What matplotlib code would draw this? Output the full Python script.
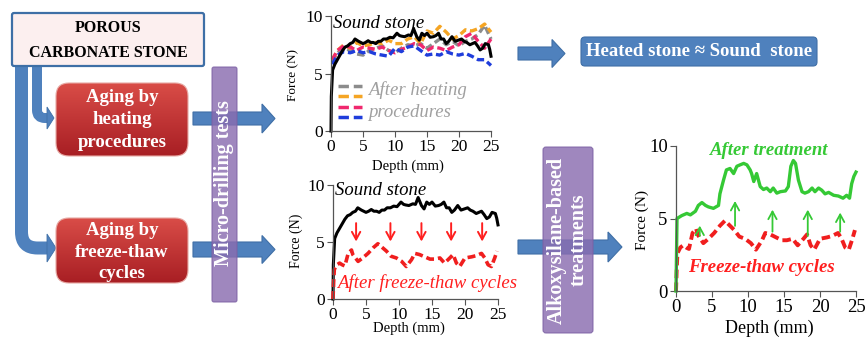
import matplotlib
matplotlib.use('Agg')
import matplotlib.pyplot as plt
import numpy as np
from matplotlib.patches import FancyBboxPatch, Polygon, PathPatch
from matplotlib.path import Path

plt.rcParams['font.family'] = ['Liberation Serif', 'DejaVu Serif']

# ---------------- data ----------------
sound_depth = [0, 0.05, 0.25, 0.6, 1.0, 1.4, 1.8, 2.2, 2.6, 3.0, 3.4, 3.75, 4.3, 5.0, 5.4,
               5.8, 6.2, 6.6, 7.0, 7.4, 7.8, 8.2, 8.7, 9.2, 9.7, 10.3, 10.7, 11.0, 11.5, 12.1,
               12.5, 12.9, 13.4, 13.8, 14.2, 14.6, 15.0, 15.5, 16.0, 16.4, 16.8, 17.2, 17.6, 18.0, 18.4,
               18.9, 19.4, 19.9, 20.4, 20.8, 21.2, 21.7, 22.1, 22.5, 22.9, 23.3, 23.7, 24.1, 24.6, 24.8, 25.0]
sound_force = [0, 3.0, 5.3, 5.8, 6.2, 6.6, 7.0, 7.3, 7.4, 7.6, 7.7, 8.0, 7.8, 7.6, 7.7,
               7.85, 7.7, 7.7, 7.6, 7.8, 7.8, 8.0, 8.0, 8.15, 8.1, 8.5, 8.3, 8.25, 8.2, 8.35,
               8.3, 8.9, 8.2, 7.9, 8.5, 8.3, 8.5, 8.15, 8.2, 8.3, 8.5, 8.0, 8.0, 7.6, 7.8,
               8.2, 7.8, 7.9, 8.0, 7.8, 7.7, 7.5, 7.6, 7.7, 7.4, 7.05, 7.2, 7.6, 7.5, 7.1, 6.5]

heat_depth = [0.2, 1, 2, 3, 4, 5, 6, 7, 8, 9, 10, 11, 12, 13, 14, 15, 16, 17, 18, 19, 20, 21, 22, 23, 24, 25]
heat_gray = [6.0, 6.8, 7.2, 7.0, 6.7, 6.6, 7.0, 7.2, 7.4, 7.0, 6.8, 7.2, 7.5, 7.4, 7.6, 7.2, 7.6, 8.0, 7.5, 7.8, 7.4, 7.8, 8.0, 8.4, 9.2, 8.0]
heat_orange = [6.2, 7.0, 7.5, 7.2, 7.7, 7.4, 7.5, 7.7, 7.6, 7.9, 7.6, 7.6, 8.0, 8.2, 7.6, 8.7, 8.5, 9.1, 8.6, 8.0, 8.3, 8.8, 8.7, 8.9, 9.3, 8.6]
heat_pink = [6.2, 7.0, 7.4, 7.3, 7.0, 7.3, 7.2, 7.1, 7.3, 7.0, 6.8, 7.1, 7.3, 7.6, 7.5, 7.0, 7.3, 7.2, 7.0, 7.3, 7.5, 8.2, 8.5, 7.8, 7.2, 8.0]
heat_blue = [5.8, 6.6, 6.9, 6.8, 7.0, 6.8, 6.9, 6.7, 6.6, 6.5, 7.2, 6.9, 7.3, 7.4, 7.0, 6.6, 6.7, 6.6, 6.9, 6.7, 6.6, 6.75, 6.5, 6.2, 6.2, 5.7]

ft_depth = [0.0, 0.1, 0.2, 0.6, 1.0, 1.4, 1.8, 2.3, 2.8, 3.0, 3.4, 3.8, 4.5, 5.3, 6.1,
            6.8, 7.3, 8.1, 8.8, 9.6, 10.4, 11.1, 11.9, 12.4, 13.1, 13.9, 14.7, 15.4, 16.2, 16.9,
            17.7, 18.2, 18.7, 19.2, 20.0, 21.0, 21.7, 22.5, 23.0, 23.5, 24.0, 24.5, 24.85]
ft_force = [0.0, 1.5, 2.6, 3.0, 3.15, 3.0, 2.9, 4.0, 4.3, 3.9, 3.6, 3.3, 3.6, 4.0, 4.5,
            4.85, 4.6, 4.2, 3.75, 3.6, 3.3, 2.85, 3.45, 4.0, 3.9, 3.7, 3.5, 3.5, 3.6, 3.15,
            3.6, 3.9, 3.15, 2.85, 3.6, 3.7, 3.8, 4.0, 3.6, 3.0, 2.85, 3.6, 4.2]

tr_depth = [0.0, 0.14, 0.8, 1.5, 2.0, 2.7, 3.1, 3.6, 4.1, 4.5, 5.2, 5.9, 6.1, 6.6, 7.0,
            7.5, 8.0, 8.45, 8.9, 9.4, 9.85, 10.3, 10.5, 10.8, 11.2, 11.7, 12.15, 12.6, 13.1, 13.5,
            14.0, 14.5, 15.2, 15.6, 15.95, 16.3, 16.6, 17.0, 17.5, 17.9, 18.4, 18.9, 19.3, 19.8, 20.25,
            20.7, 21.2, 21.9, 22.55, 23.2, 23.7, 24.1, 24.4, 24.7, 25.0]
tr_force = [0.0, 5.0, 5.2, 5.35, 5.25, 5.5, 5.9, 6.1, 5.9, 5.8, 5.7, 5.9, 6.7, 7.65, 8.35,
            8.45, 8.1, 8.6, 8.7, 8.8, 8.7, 8.35, 8.1, 7.55, 8.1, 7.2, 7.0, 7.1, 6.85, 7.1,
            6.75, 6.85, 6.9, 7.2, 8.6, 9.0, 8.8, 7.65, 6.85, 6.75, 6.85, 7.1, 6.85, 7.1, 6.95,
            6.7, 6.8, 6.6, 6.55, 6.4, 6.6, 6.4, 7.4, 7.9, 8.2]

down_arrow_x = [3.5, 8.7, 13.4, 17.9, 22.6]
down_arrow_from = 6.9
down_arrow_to = 4.8
up_arrow_x = [3.3, 8.2, 13.4, 18.3, 22.8]
up_arrow_from = [3.6, 4.3, 3.9, 3.6, 3.9]
up_arrow_to = [4.7, 6.4, 5.8, 5.8, 5.6]

x_ticks = [0, 5, 10, 15, 20, 25]
y_ticks = [0, 5, 10]

# ---------------- figure ----------------
W, H = 865, 342
fig = plt.figure(figsize=(W / 100, H / 100), dpi=100)
bg = fig.add_axes([0, 0, 1, 1])
bg.axis('off')

BLUE = '#4f81bd'
BLUE_E = '#3f6fa6'
PURPLE = '#8a6db0'
RED = '#ff1f1f'
GREEN = '#35c935'


def harrow(x0, x1, yc, shaft_h, head_h, head_len):
    xs = x1 - head_len
    pts = [(x0, yc - shaft_h / 2), (xs, yc - shaft_h / 2), (xs, yc - head_h / 2), (x1, yc),
           (xs, yc + head_h / 2), (xs, yc + shaft_h / 2), (x0, yc + shaft_h / 2)]
    bg.add_patch(Polygon(pts, closed=True, fc=BLUE, ec=BLUE_E, lw=0.8, zorder=2))


def bent_arrow(x, ytop, yturn, xend, width, head_h, head_len, r):
    xs = xend - head_len
    verts = [(x, ytop), (x, yturn - r), (x, yturn), (x + r, yturn), (xs + 1, yturn)]
    codes = [Path.MOVETO, Path.LINETO, Path.CURVE3, Path.CURVE3, Path.LINETO]
    bg.add_patch(PathPatch(Path(verts, codes), fc='none', ec=BLUE, lw=width * 0.72,
                           capstyle='butt', joinstyle='round', zorder=2))
    bg.add_patch(Polygon([(xs, yturn - head_h / 2), (xend, yturn), (xs, yturn + head_h / 2)],
                         closed=True, fc=BLUE, ec=BLUE_E, lw=0.6, zorder=2))


# porous box
bg.add_patch(FancyBboxPatch((12, 13), 192, 53, boxstyle='round,pad=0,rounding_size=2',
                            fc='#fcefef', ec='#3e6fa6', lw=1.6, zorder=4))
bg.text(108, 31.7, 'POROUS', ha='center', va='baseline', fontsize=11.5, fontweight='bold', zorder=5)
bg.text(108, 57.3, 'CARBONATE STONE', ha='center', va='baseline', fontsize=11.5, fontweight='bold', zorder=5)

# bent arrows
bent_arrow(21.5, 66, 248, 56, 13, 28, 9, 16)
bent_arrow(37, 66, 118, 54, 10, 22, 7, 8)


# red gradient boxes
def grad_box(x0, y0, x1, y1, lines, baselines):
    p = FancyBboxPatch((x0, y0), x1 - x0, y1 - y0, boxstyle='round,pad=0,rounding_size=13',
                       fc='none', ec='#e7a9a4', lw=0.8, zorder=3)
    bg.add_patch(p)
    g = np.linspace(0, 1, 60)[:, None, None]
    top = np.array([0.85, 0.30, 0.28])
    bot = np.array([0.66, 0.12, 0.14])
    img = top + (bot - top) * g
    im = bg.imshow(img, extent=(x0, x1, y1, y0), aspect='auto', zorder=2.5, interpolation='bilinear')
    im.set_clip_path(p)
    for t, b in zip(lines, baselines):
        bg.text((x0 + x1) / 2, b, t, ha='center', va='baseline', color='white', fontsize=13.5,
                fontweight='bold', zorder=5)


grad_box(56, 83, 188, 156, ['Aging by', 'heating', 'procedures'], [101.7, 124.5, 147.3])
grad_box(56, 218, 188, 283, ['Aging by', 'freeze-thaw', 'cycles'], [235, 257, 278])

# straight arrows
harrow(193, 275, 118.5, 13, 29, 13)
harrow(193, 275, 249.5, 15, 28, 13)
harrow(518, 565, 53.5, 13, 28, 13)
harrow(518, 622, 247, 14, 30, 14)

# purple bars
bg.add_patch(FancyBboxPatch((212, 67), 25, 235, boxstyle='round,pad=0,rounding_size=2',
                            fc=PURPLE, ec='#7b5fa3', lw=0.8, alpha=0.82, zorder=6))
bg.text(224.5, 183.5, 'Micro-drilling tests', rotation=90, ha='center', va='center',
        color='white', fontsize=14.5, fontweight='bold', zorder=7)
bg.add_patch(FancyBboxPatch((543, 147), 50, 186, boxstyle='round,pad=0,rounding_size=3',
                            fc=PURPLE, ec='#7b5fa3', lw=0.8, alpha=0.82, zorder=6))
bg.text(568, 240, 'Alkoxysilane-based\ntreatments', rotation=90, ha='center', va='center',
        multialignment='center', color='white', fontsize=14.5, fontweight='bold',
        linespacing=1.15, zorder=7)

# heated box
bg.add_patch(FancyBboxPatch((581, 37), 236, 29, boxstyle='round,pad=0,rounding_size=4',
                            fc=BLUE, ec=BLUE_E, lw=0.8, zorder=3))
bg.text(699, 52, 'Heated stone \u2248 Sound  stone', ha='center', va='center', color='white',
        fontsize=13.5, fontweight='bold', zorder=5)

bg.set_xlim(0, W)
bg.set_ylim(H, 0)


def px_axes(x0, y0, x1, y1):
    ax = fig.add_axes([x0 / W, 1 - y1 / H, (x1 - x0) / W, (y1 - y0) / H])
    ax.set_facecolor('none')
    ax.set_xlim(0, 25)
    ax.set_ylim(0, 10)
    for s in ['top', 'right']:
        ax.spines[s].set_visible(False)
    for s in ['left', 'bottom']:
        ax.spines[s].set_color('#555555')
        ax.spines[s].set_linewidth(0.9)
    ax.set_xticks(x_ticks)
    ax.set_yticks(y_ticks)
    ax.tick_params(direction='out', length=4, width=0.8, color='#555555', pad=2)
    return ax


def style_labels(ax, tick_fs, xl_fs, yl_fs, xl_pos, yl_pos):
    ax.tick_params(labelsize=tick_fs)
    ax.set_xlabel('Depth (mm)', fontsize=xl_fs)
    ax.set_ylabel('Force (N)', fontsize=yl_fs)
    ax.xaxis.set_label_coords(*xl_pos)
    ax.yaxis.set_label_coords(*yl_pos)


dash = (0, (2.2, 1.1))

# chart 1
ax1 = px_axes(331, 16, 491, 131)
ax1.plot(heat_depth, heat_gray, color='#8c8c8c', lw=2.4, ls=dash, clip_on=False)
ax1.plot(heat_depth, heat_orange, color='#f5a524', lw=2.4, ls=dash, clip_on=False)
ax1.plot(heat_depth, heat_pink, color='#f0286e', lw=2.4, ls=dash, clip_on=False)
ax1.plot(heat_depth, heat_blue, color='#1f3ddb', lw=2.4, ls=dash, clip_on=False)
ax1.plot(sound_depth, sound_force, color='black', lw=2.2, clip_on=False)
ax1.text(0.3, 9.0, 'Sound stone', fontsize=13.5, style='italic', va='baseline')
for yy, c in zip([3.9, 3.04, 2.1, 1.2], ['#8c8c8c', '#f5a524', '#f0286e', '#1f3ddb']):
    ax1.plot([1.1, 4.8], [yy, yy], color=c, lw=2.5, ls=(0, (3, 1.4)))
ax1.text(5.8, 3.1, 'After heating', fontsize=13.5, style='italic', color='#a0a0a0', va='baseline')
ax1.text(5.8, 1.2, 'procedures', fontsize=13.5, style='italic', color='#a0a0a0', va='baseline')
style_labels(ax1, 12.5, 10.5, 9.5, (0.48, -0.245), (-0.20, 0.49))

# chart 2
ax2 = px_axes(333, 185, 498, 299)
ax2.plot(sound_depth, sound_force, color='black', lw=2.2, clip_on=False)
ax2.plot(ft_depth, ft_force, color='#f01e1e', lw=2.6, ls=dash, clip_on=False)
ax2.text(0.3, 9.1, 'Sound stone', fontsize=13.5, style='italic', va='baseline')
ax2.text(0.6, 0.95, 'After freeze-thaw cycles', fontsize=13.5, style='italic', color=RED, va='baseline')
for xa in down_arrow_x:
    ax2.annotate('', xy=(xa, down_arrow_to), xytext=(xa, down_arrow_from),
                 arrowprops=dict(arrowstyle='->,head_length=0.55,head_width=0.3', color=RED, lw=1.4))
style_labels(ax2, 12.5, 10.5, 10, (0.46, -0.20), (-0.18, 0.51))

# chart 3
ax3 = px_axes(676, 146, 856, 291)
ax3.plot(ft_depth, ft_force, color='#f01e1e', lw=2.8, ls=dash, clip_on=False)
ax3.plot(tr_depth, tr_force, color=GREEN, lw=2.4, clip_on=False)
ax3.text(4.7, 9.4, 'After treatment', fontsize=13.5, style='italic', fontweight='bold', color=GREEN, va='baseline')
ax3.text(1.7, 1.3, 'Freeze-thaw cycles', fontsize=13.5, style='italic', fontweight='bold', color=RED, va='baseline')
for xa, y0, y1 in zip(up_arrow_x, up_arrow_from, up_arrow_to):
    ax3.annotate('', xy=(xa, y1), xytext=(xa, y0),
                 arrowprops=dict(arrowstyle='->,head_length=0.55,head_width=0.3', color=GREEN, lw=1.3))
style_labels(ax3, 13.5, 13, 11, (0.52, -0.20), (-0.15, 0.49))

fig.savefig('out.png', dpi=100)
